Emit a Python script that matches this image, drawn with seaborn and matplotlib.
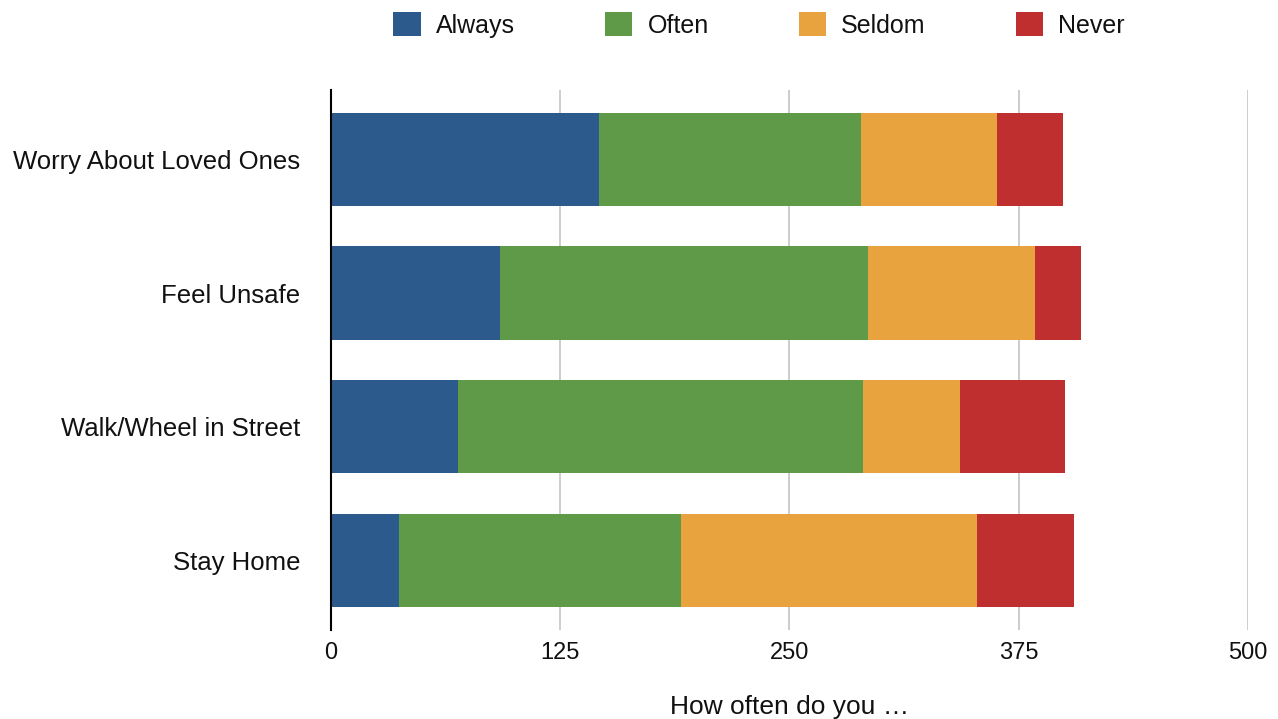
import numpy as np
import pandas as pd
import seaborn as sns
import matplotlib.pyplot as plt
from matplotlib.patches import Patch

# %% Data
questions = ["Worry About Loved Ones", "Feel Unsafe", "Walk/Wheel in Street", "Stay Home"]
answers = ["Always", "Often", "Seldom", "Never"]
always = [146, 92, 69, 37]
often = [143, 201, 221, 154]
seldom = [74, 91, 53, 161]
never = [36, 25, 57, 53]
colors = ["#2D5A8C", "#5E9A48", "#E8A23E", "#BF2F30"]

df = pd.DataFrame({"Question": questions, "Always": always, "Often": often,
                   "Seldom": seldom, "Never": never})
# cumulative sums so each overlaid bar shows one stacked segment
cum = df[answers].cumsum(axis=1)
cum["Question"] = df["Question"]

# %% Plot
sns.set_style("white")
plt.rcParams['font.family'] = ['Liberation Sans', 'DejaVu Sans']
fig = plt.figure(figsize=(12.78, 7.19), dpi=100)
ax = fig.add_axes([0.259, 0.124, 0.7175, 0.751])

for ans, col in reversed(list(zip(answers, colors))):
    sns.barplot(data=cum, x=ans, y="Question", order=questions, color=col,
                orient="h", width=0.70, saturation=1, ax=ax, zorder=3,
                linewidth=0)

ax.set_xlim(0, 500)
ax.set_ylim(3.52, -0.52)
ax.set_xticks([0, 125, 250, 375, 500])
ax.set_xticklabels(["0", "125", "250", "375", "500"], fontsize=17)
ax.grid(axis="x", color="#C8C8C8", linewidth=1.3, zorder=0)
ax.set_axisbelow(True)
for s in ["top", "right", "bottom"]:
    ax.spines[s].set_visible(False)
ax.spines["left"].set_color("black")
ax.spines["left"].set_linewidth(1.5)
ax.spines["left"].set_zorder(5)
ax.tick_params(axis="x", length=6, color="#C8C8C8", width=1.3, pad=3,
               labelcolor="#111111")
ax.tick_params(axis="y", length=0, labelsize=18.5, pad=22, labelcolor="#111111")
ax.set_ylabel("")
ax.set_xlabel("How often do you …", fontsize=19, labelpad=22, color="#111111")

handles = [Patch(facecolor=c, edgecolor="none") for c in colors]
fig.legend(handles, answers, loc="center", bbox_to_anchor=(0.594, 0.965),
           ncol=4, frameon=False, fontsize=18, handlelength=1.1,
           handleheight=1.1, columnspacing=3.6, handletextpad=0.6,
           labelcolor="#111111")

plt.savefig("out.png", dpi=100)
plt.close()
